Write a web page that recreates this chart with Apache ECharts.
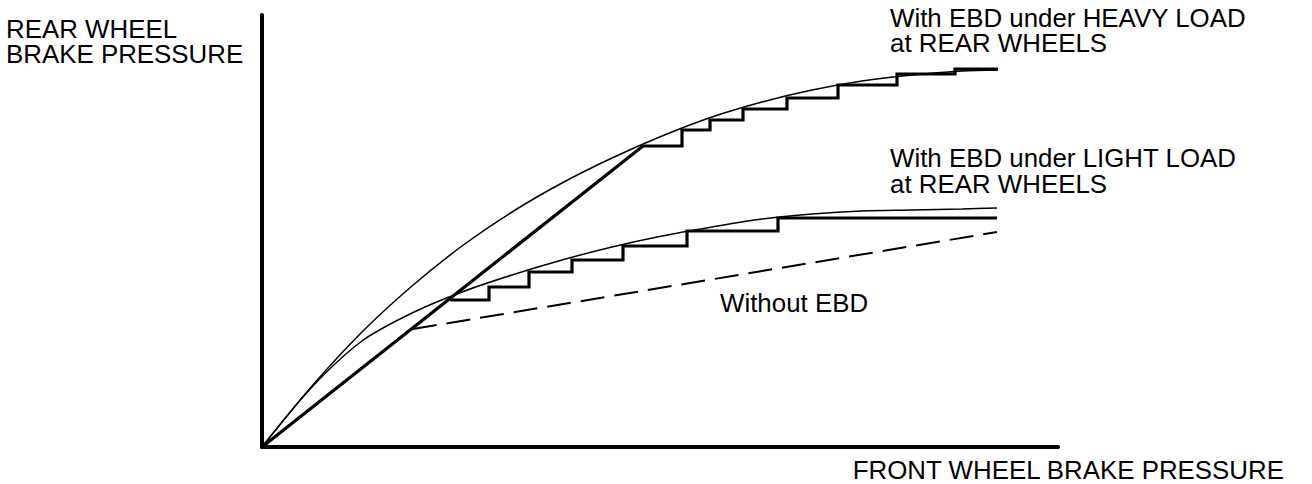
<!DOCTYPE html>
<html>
<head>
<meta charset="utf-8">
<script src="https://cdn.jsdelivr.net/npm/echarts@6/dist/echarts.min.js"></script>
<style>
  html, body { margin: 0; padding: 0; background: #fff; }
  #chart { width: 1312px; height: 484px; }
</style>
</head>
<body>
<div id="chart"></div>
<script>
// Axis extents (arbitrary pressure units, no tick labels in the original)
const xMax = 796;
const yMax = 432;

// Ideal distribution curve, heavy load
const heavyIdeal = [[0,0],[50,61],[100,115],[150,161],[200,201],[250,235],[300,264],[350,289],[400,311],[450,330],[500,345],[550,357],[600,366],[650,372],[700,376],[736,377]];
// Ideal distribution curve, light load
const lightIdeal = [[0,0],[50,60],[100,106],[150,134],[200,155],[250,172],[300,187],[350,200],[400,211],[450,220],[500,228],[550,233],[600,236],[650,237],[700,238],[735,239]];
// EBD controlled pressure, heavy load (straight rise then stepped)
const heavyEBD = [[0,0],[381,301],[420,301],[420,317],[448,317],[448,327],[481,327],[481,338],[525,338],[525,349],[576,349],[576,362],[635,362],[635,373],[693,373],[693,378],[736,378]];
// EBD controlled pressure, light load (stepped)
const lightEBD = [[188,147],[227,147],[227,160],[267,160],[267,175],[310,175],[310,187],[361,187],[361,201],[425,201],[425,216],[516,216],[516,229],[735,229]];
// Conventional proportioning valve (without EBD)
const withoutEBD = [[151,118],[735,215]];

// Text labels
const yAxisLabel = ['REAR WHEEL', 'BRAKE PRESSURE'];
const xAxisLabel = 'FRONT WHEEL BRAKE PRESSURE';
const heavyLabel = ['With EBD under HEAVY LOAD', 'at REAR WHEELS'];
const lightLabel = ['With EBD under LIGHT LOAD', 'at REAR WHEELS'];
const withoutLabel = 'Without EBD';

const FONT = '25px "Liberation Sans", Arial, sans-serif';
const STRETCH = 1.035;

function txt(lines, x, y, lh, align) {
  return {
    type: 'text',
    x: x, y: y,
    scaleX: STRETCH,
    style: {
      text: Array.isArray(lines) ? lines.join('\n') : lines,
      font: FONT, fill: '#000', lineHeight: lh,
      textAlign: align || 'left', textVerticalAlign: 'top'
    },
    silent: true
  };
}

const chart = echarts.init(document.getElementById('chart'), null, { renderer: 'svg' });

const thin = { color: '#000', width: 1.5 };
const thick = { color: '#000', width: 3.2, join: 'miter', cap: 'butt' };

chart.setOption({
  animation: false,
  backgroundColor: '#fff',
  grid: { left: 262, top: 15, width: 796, height: 432, containLabel: false },
  xAxis: {
    type: 'value', min: 0, max: xMax,
    axisLine: { show: true, lineStyle: { color: '#000', width: 4 } },
    axisTick: { show: false }, axisLabel: { show: false }, splitLine: { show: false }
  },
  yAxis: {
    type: 'value', min: 0, max: yMax,
    axisLine: { show: true, lineStyle: { color: '#000', width: 4 } },
    axisTick: { show: false }, axisLabel: { show: false }, splitLine: { show: false }
  },
  series: [
    { name: 'heavyIdeal', type: 'line', data: heavyIdeal, smooth: 0.3, showSymbol: false, symbol: 'none', lineStyle: thin, silent: true },
    { name: 'lightIdeal', type: 'line', data: lightIdeal, smooth: 0.3, showSymbol: false, symbol: 'none', lineStyle: thin, silent: true },
    { name: 'heavyEBD', type: 'line', data: heavyEBD, showSymbol: false, symbol: 'none', lineStyle: thick, silent: true },
    { name: 'lightEBD', type: 'line', data: lightEBD, showSymbol: false, symbol: 'none', lineStyle: thick, silent: true },
    { name: 'withoutEBD', type: 'line', data: withoutEBD, showSymbol: false, symbol: 'none',
      lineStyle: { color: '#000', width: 2, type: [24, 10] }, silent: true }
  ],
  graphic: [
    txt(yAxisLabel, 6, 17, 25),
    txt(heavyLabel, 890, 6, 25),
    txt(lightLabel, 890, 145, 26),
    txt(withoutLabel, 720, 290, 26),
    txt(xAxisLabel, 1284, 457, 26, 'right')
  ]
});
</script>
</body>
</html>
